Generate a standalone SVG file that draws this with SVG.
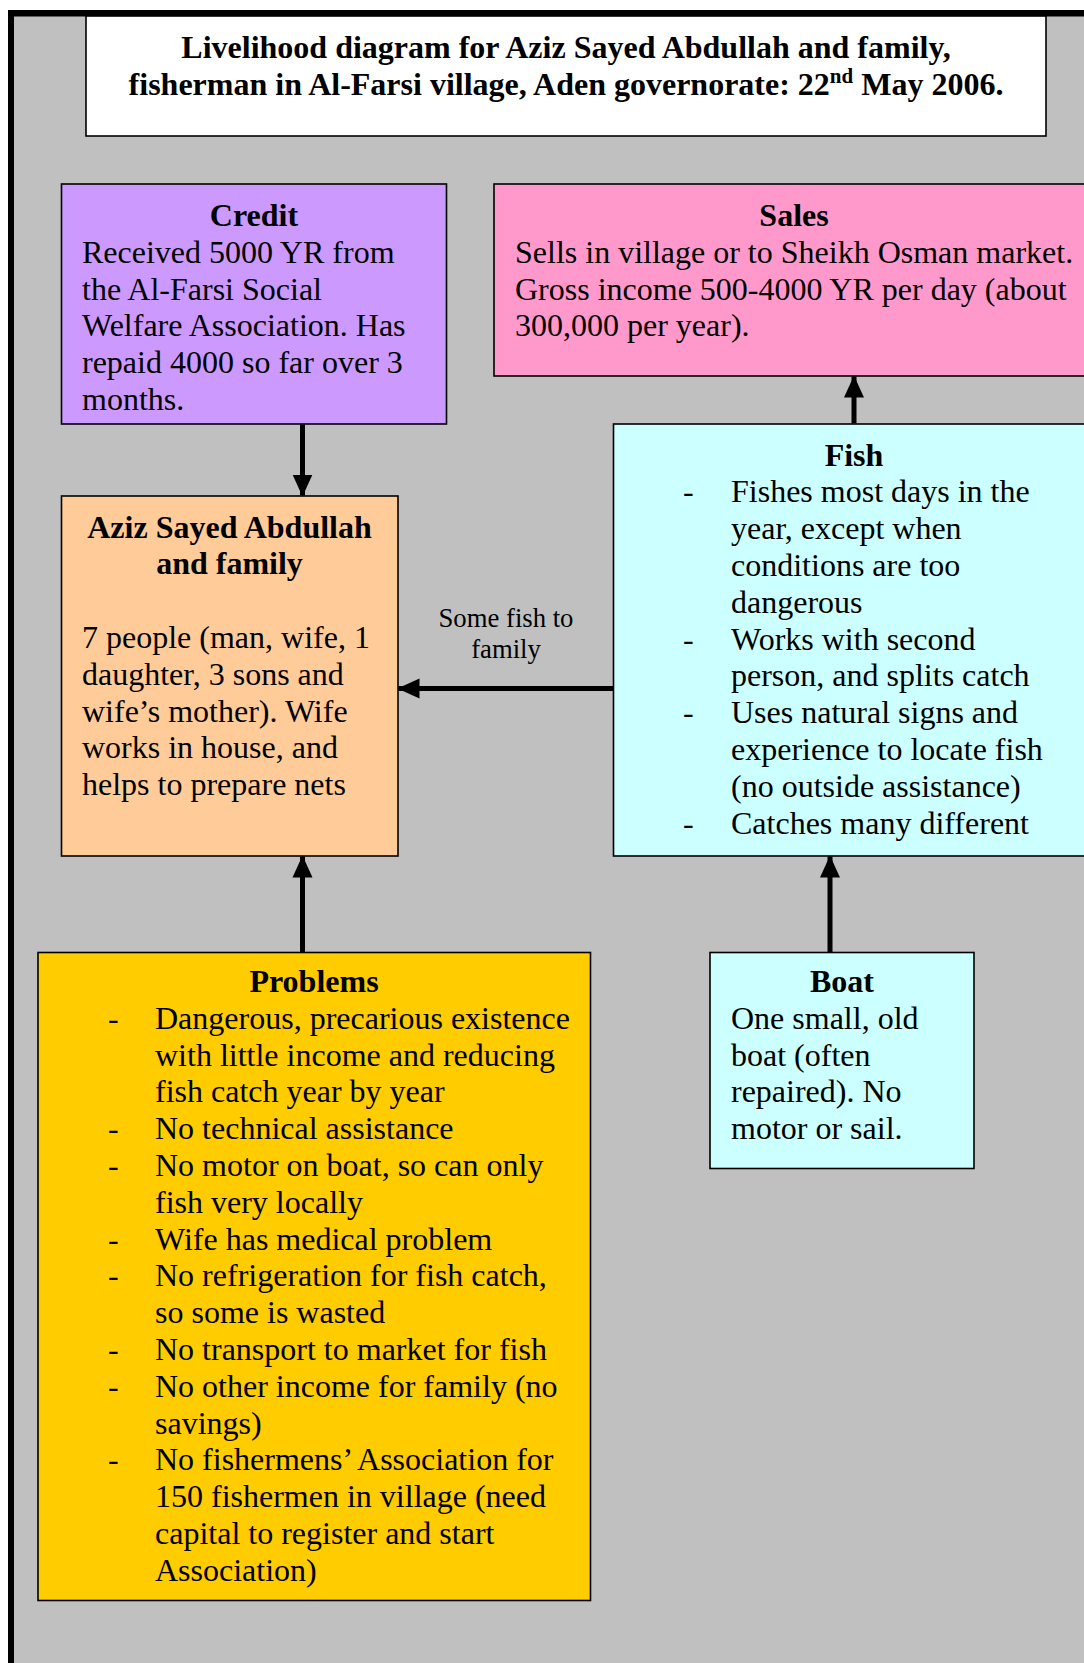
<svg xmlns="http://www.w3.org/2000/svg" width="1084" height="1663" viewBox="0 0 1084 1663">
<defs>
<style>
.box{stroke:#000;stroke-width:1.6}
.t{font-family:"Liberation Serif","Times New Roman",serif;font-size:32px;fill:#000}
.b{font-weight:bold}
.m{text-anchor:middle}
.lbl{font-family:"Liberation Serif","Times New Roman",serif;font-size:26.7px;fill:#000;text-anchor:middle}
.arr{stroke:#000;stroke-width:5;fill:none}
</style>
<marker id="ah" markerUnits="userSpaceOnUse" markerWidth="22" markerHeight="22" viewBox="0 0 22 22" refX="21" refY="11" orient="auto">
<path d="M0,1 L22,11 L0,21 Z" fill="#000"/>
</marker>
</defs>
<rect x="0" y="0" width="1084" height="1663" fill="#fff"/>
<rect x="11" y="13" width="1073" height="1650" fill="#C0C0C0"/>
<rect x="8" y="10" width="1076" height="6.5" fill="#000"/>
<rect x="8" y="10" width="6" height="1653" fill="#000"/>

<g id="title">
<rect class="box" x="86" y="16" width="960" height="120" fill="#fff"/>
<text class="t b m" x="566" y="58">Livelihood diagram for Aziz Sayed Abdullah and family,</text>
<text class="t b m" x="566" y="94.5">fisherman in Al-Farsi village, Aden governorate: 22<tspan font-size="21" dy="-12">nd</tspan><tspan dy="12"> May 2006.</tspan></text>
</g>

<g id="credit">
<rect class="box" x="61.5" y="184" width="385" height="240" fill="#CC99FF"/>
<text class="t b m" x="254" y="226">Credit</text>
<text class="t" x="82" y="262.8">Received 5000 YR from</text>
<text class="t" x="82" y="299.6">the Al-Farsi Social</text>
<text class="t" x="82" y="336.4">Welfare Association. Has</text>
<text class="t" x="82" y="373.2">repaid 4000 so far over 3</text>
<text class="t" x="82" y="410">months.</text>
</g>

<g id="sales">
<rect class="box" x="494" y="184" width="610" height="192" fill="#FF99CC"/>
<text class="t b m" x="794" y="226">Sales</text>
<text class="t" x="515" y="262.8">Sells in village or to Sheikh Osman market.</text>
<text class="t" x="515" y="299.6">Gross income 500-4000 YR per day (about</text>
<text class="t" x="515" y="336.4">300,000 per year).</text>
</g>

<g id="family">
<rect class="box" x="61.5" y="496" width="336.5" height="360" fill="#FFCC99"/>
<text class="t b m" x="229.5" y="537.5">Aziz Sayed Abdullah</text>
<text class="t b m" x="229.5" y="574.3">and family</text>
<text class="t" x="82" y="647.9">7 people (man, wife, 1</text>
<text class="t" x="82" y="684.7">daughter, 3 sons and</text>
<text class="t" x="82" y="721.5">wife’s mother). Wife</text>
<text class="t" x="82" y="758.3">works in house, and</text>
<text class="t" x="82" y="795.1">helps to prepare nets</text>
</g>

<g id="fish">
<rect class="box" x="613.5" y="424" width="490" height="432" fill="#CCFFFF"/>
<text class="t b m" x="854" y="465.5">Fish</text>
<text class="t" x="683" y="502.3">-</text>
<text class="t" x="731" y="502.3">Fishes most days in the</text>
<text class="t" x="731" y="539.1">year, except when</text>
<text class="t" x="731" y="575.9">conditions are too</text>
<text class="t" x="731" y="612.7">dangerous</text>
<text class="t" x="683" y="649.5">-</text>
<text class="t" x="731" y="649.5">Works with second</text>
<text class="t" x="731" y="686.3">person, and splits catch</text>
<text class="t" x="683" y="723.1">-</text>
<text class="t" x="731" y="723.1">Uses natural signs and</text>
<text class="t" x="731" y="759.9">experience to locate fish</text>
<text class="t" x="731" y="796.7">(no outside assistance)</text>
<text class="t" x="683" y="833.5">-</text>
<text class="t" x="731" y="833.5">Catches many different</text>
</g>

<g id="problems">
<rect class="box" x="38" y="952.5" width="552.5" height="648" fill="#FFCC00"/>
<text class="t b m" x="314" y="992">Problems</text>
<text class="t" x="108" y="1028.8">-</text>
<text class="t" x="155" y="1028.8">Dangerous, precarious existence</text>
<text class="t" x="155" y="1065.6">with little income and reducing</text>
<text class="t" x="155" y="1102.4">fish catch year by year</text>
<text class="t" x="108" y="1139.2">-</text>
<text class="t" x="155" y="1139.2">No technical assistance</text>
<text class="t" x="108" y="1176">-</text>
<text class="t" x="155" y="1176">No motor on boat, so can only</text>
<text class="t" x="155" y="1212.8">fish very locally</text>
<text class="t" x="108" y="1249.6">-</text>
<text class="t" x="155" y="1249.6">Wife has medical problem</text>
<text class="t" x="108" y="1286.4">-</text>
<text class="t" x="155" y="1286.4">No refrigeration for fish catch,</text>
<text class="t" x="155" y="1323.2">so some is wasted</text>
<text class="t" x="108" y="1360">-</text>
<text class="t" x="155" y="1360">No transport to market for fish</text>
<text class="t" x="108" y="1396.8">-</text>
<text class="t" x="155" y="1396.8">No other income for family (no</text>
<text class="t" x="155" y="1433.6">savings)</text>
<text class="t" x="108" y="1470.4">-</text>
<text class="t" x="155" y="1470.4">No fishermens’ Association for</text>
<text class="t" x="155" y="1507.2">150 fishermen in village (need</text>
<text class="t" x="155" y="1544">capital to register and start</text>
<text class="t" x="155" y="1580.8">Association)</text>
</g>

<g id="boat">
<rect class="box" x="710" y="952.5" width="264" height="216" fill="#CCFFFF"/>
<text class="t b m" x="842" y="992">Boat</text>
<text class="t" x="731" y="1028.8">One small, old</text>
<text class="t" x="731" y="1065.6">boat (often</text>
<text class="t" x="731" y="1102.4">repaired). No</text>
<text class="t" x="731" y="1139.2">motor or sail.</text>
</g>

<g id="connectors">
<line class="arr" x1="302.5" y1="424.5" x2="302.5" y2="495.5" marker-end="url(#ah)"/>
<line class="arr" x1="854" y1="423.5" x2="854" y2="376.5" marker-end="url(#ah)"/>
<line class="arr" x1="613" y1="688.5" x2="398.5" y2="688.5" marker-end="url(#ah)"/>
<line class="arr" x1="302.5" y1="952" x2="302.5" y2="856.5" marker-end="url(#ah)"/>
<line class="arr" x1="830" y1="952" x2="830" y2="856.5" marker-end="url(#ah)"/>
<text class="lbl" x="506" y="627">Some fish to</text>
<text class="lbl" x="506" y="658">family</text>
</g>
</svg>
